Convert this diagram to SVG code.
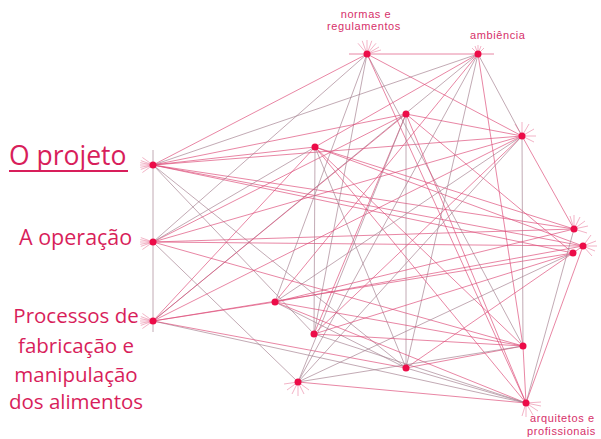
<svg xmlns="http://www.w3.org/2000/svg" width="601" height="439" viewBox="0 0 601 439">
<style>
.bg{fill:#ffffff}
.e{stroke:#dc4a78;stroke-width:0.9;stroke-opacity:0.75;fill:none}
.g{stroke:#a4808f;stroke-width:0.9;stroke-opacity:0.75;fill:none}
.burst{stroke:#e0507c;stroke-width:0.8;stroke-opacity:0.55;fill:none}
.dot{fill:#ec0c48}
.big{font-family:"Open Sans","Liberation Sans",sans-serif;fill:#d81e5b}
.small{font-family:"Liberation Sans",Arial,sans-serif;fill:#d6306a;font-size:11px;letter-spacing:0.6px}
</style>
<rect class="bg" x="0" y="0" width="601" height="439"/>
<g id="connectors">
<path class="g" d="M153 150 L153 332"/>
<path class="e" d="M349 54 L494 54"/>
<path class="e" d="M153 165 L367 54"/>
<path class="g" d="M153 165 L478 54"/>
<path class="e" d="M153 165 L406 114"/>
<path class="e" d="M153 165 L315 147"/>
<path class="e" d="M153 165 L522 136"/>
<path class="e" d="M153 165 L574 229"/>
<path class="e" d="M153 165 L583 246"/>
<path class="g" d="M153 165 L314 334"/>
<path class="g" d="M153 165 L406 368"/>
<path class="e" d="M153 165 L573 253"/>
<path class="g" d="M153 242 L367 54"/>
<path class="e" d="M153 242 L406 114"/>
<path class="g" d="M153 242 L315 147"/>
<path class="e" d="M153 242 L522 136"/>
<path class="e" d="M153 242 L574 229"/>
<path class="e" d="M153 242 L583 246"/>
<path class="e" d="M153 242 L523 346"/>
<path class="g" d="M153 242 L298 382"/>
<path class="g" d="M153 321 L478 54"/>
<path class="e" d="M153 321 L406 114"/>
<path class="e" d="M153 321 L315 147"/>
<path class="e" d="M153 321 L522 136"/>
<path class="e" d="M153 321 L275 302"/>
<path class="e" d="M153 321 L573 253"/>
<path class="g" d="M153 321 L526 403"/>
<path class="e" d="M153 321 L406 368"/>
<path class="g" d="M367 54 L314 334"/>
<path class="e" d="M367 54 L522 136"/>
<path class="g" d="M367 54 L523 346"/>
<path class="e" d="M367 54 L526 403"/>
<path class="g" d="M367 54 L275 302"/>
<path class="e" d="M478 54 L315 147"/>
<path class="g" d="M478 54 L522 136"/>
<path class="e" d="M478 54 L523 346"/>
<path class="g" d="M478 54 L298 382"/>
<path class="e" d="M478 54 L275 302"/>
<path class="g" d="M478 54 L406 368"/>
<path class="e" d="M406 114 L573 253"/>
<path class="g" d="M406 114 L406 368"/>
<path class="e" d="M406 114 L314 334"/>
<path class="e" d="M406 114 L526 403"/>
<path class="g" d="M406 114 L298 382"/>
<path class="e" d="M406 114 L522 136"/>
<path class="g" d="M315 147 L314 334"/>
<path class="e" d="M315 147 L574 229"/>
<path class="e" d="M315 147 L583 246"/>
<path class="g" d="M315 147 L406 368"/>
<path class="e" d="M315 147 L526 403"/>
<path class="e" d="M315 147 L523 346"/>
<path class="g" d="M522 136 L523 346"/>
<path class="e" d="M522 136 L574 229"/>
<path class="g" d="M522 136 L298 382"/>
<path class="e" d="M522 136 L314 334"/>
<path class="g" d="M522 136 L275 302"/>
<path class="e" d="M275 302 L574 229"/>
<path class="e" d="M275 302 L583 246"/>
<path class="e" d="M314 334 L573 253"/>
<path class="g" d="M298 382 L573 253"/>
<path class="e" d="M406 368 L583 246"/>
<path class="g" d="M526 403 L574 229"/>
<path class="e" d="M526 403 L583 246"/>
<path class="e" d="M275 302 L523 346"/>
<path class="g" d="M275 302 L406 368"/>
<path class="e" d="M275 302 L526 403"/>
<path class="e" d="M314 334 L523 346"/>
<path class="g" d="M314 334 L526 403"/>
<path class="e" d="M406 368 L523 346"/>
<path class="e" d="M523 346 L526 403"/>
<path class="g" d="M523 346 L298 382"/>
<path class="e" d="M298 382 L526 403"/>
<path class="g" d="M406 368 L526 403"/>
</g>
<g id="bursts">
<path class="burst" d="M153 165 l-13 0 M153 165 l-12.8 -2.3 M153 165 l-12.2 -4.4 M153 165 l-10.6 -7.5 M153 165 l-12.8 2.3 M153 165 l-12.2 4.4 M153 165 l-10.6 7.5"/>
<path class="burst" d="M153 242 l-13 0 M153 242 l-12.8 -2.3 M153 242 l-12.2 -4.4 M153 242 l-12.8 2.3 M153 242 l-12.2 4.4 M153 242 l-10.6 7.5"/>
<path class="burst" d="M153 321 l-13 0 M153 321 l-12.8 -2.3 M153 321 l-12.2 -4.4 M153 321 l-10.6 -7.5 M153 321 l-12.8 2.3 M153 321 l-12.2 4.4 M153 321 l-10.6 7.5"/>
<path class="burst" d="M367 54 l0 -14 M367 54 l-4.8 -13.2 M367 54 l4.8 -13.2 M367 54 l-9 -10.7 M367 54 l9 -10.7 M367 54 l12 -7 M367 54 l14 -4"/>
<path class="burst" d="M478 54 l0 -9 M478 54 l-3 -8 M478 54 l3 -8 M478 54 l-6 -6 M478 54 l6 -6"/>
<path class="burst" d="M522 136 l0 -14 M522 136 l7 -12 M522 136 l12 -7 M522 136 l14 0 M522 136 l-7 -12 M522 136 l12 6"/>
<path class="burst" d="M574 229 l0 -14 M574 229 l6 -12 M574 229 l11 -8 M574 229 l14 -3 M574 229 l13 4 M574 229 l-4 -13"/>
<path class="burst" d="M583 246 l14 0 M583 246 l13 -5 M583 246 l12 5 M583 246 l9 10 M583 246 l8 -11"/>
<path class="burst" d="M298 382 l0 14 M298 382 l-6 12 M298 382 l6 12 M298 382 l-11 8 M298 382 l11 8 M298 382 l-14 2"/>
<path class="burst" d="M526 403 l0 14 M526 403 l7 12 M526 403 l12 8 M526 403 l15 3 M526 403 l-4 13 M526 403 l15 -1"/>
</g>
<g id="node-o-projeto">
<circle class="dot" cx="153" cy="165" r="3.5"/>
<text class="big" x="9" y="165" font-size="26.5">O projeto</text>
<rect x="9" y="170" width="119" height="2" fill="#d81e5b"/>
</g>
<g id="node-a-operacao">
<circle class="dot" cx="153" cy="242" r="3.5"/>
<text class="big" x="19" y="245" font-size="21.5">A operação</text>
</g>
<g id="node-processos">
<circle class="dot" cx="153" cy="321" r="3.5"/>
<text class="big" text-anchor="middle" x="76" font-size="20.5"><tspan x="76" y="323">Processos de</tspan><tspan x="76" y="353">fabricação e</tspan><tspan x="76" y="382">manipulação</tspan><tspan x="76" y="409">dos alimentos</tspan></text>
</g>
<g id="node-normas">
<circle class="dot" cx="367" cy="54" r="3.5"/>
<text class="small" text-anchor="middle"><tspan x="366" y="17.5">normas e</tspan><tspan x="364" y="30">regulamentos</tspan></text>
</g>
<g id="node-ambiencia">
<circle class="dot" cx="478" cy="54" r="3.5"/>
<text class="small" x="470" y="39">ambiência</text>
</g>
<g id="node-f"><circle class="dot" cx="406" cy="114" r="3.5"/></g>
<g id="node-g"><circle class="dot" cx="315" cy="147" r="3.5"/></g>
<g id="node-h"><circle class="dot" cx="522" cy="136" r="3.5"/></g>
<g id="node-i"><circle class="dot" cx="574" cy="229" r="3.5"/></g>
<g id="node-j"><circle class="dot" cx="583" cy="246" r="3.5"/></g>
<g id="node-k"><circle class="dot" cx="573" cy="253" r="3.5"/></g>
<g id="node-l"><circle class="dot" cx="275" cy="302" r="3.5"/></g>
<g id="node-m"><circle class="dot" cx="314" cy="334" r="3.5"/></g>
<g id="node-n"><circle class="dot" cx="523" cy="346" r="3.5"/></g>
<g id="node-o"><circle class="dot" cx="406" cy="368" r="3.5"/></g>
<g id="node-p"><circle class="dot" cx="298" cy="382" r="3.5"/></g>
<g id="node-arquitetos">
<circle class="dot" cx="526" cy="403" r="3.5"/>
<text class="small"><tspan x="530" y="422">arquitetos e</tspan><tspan x="527" y="434.5">profissionais</tspan></text>
</g>
</svg>
